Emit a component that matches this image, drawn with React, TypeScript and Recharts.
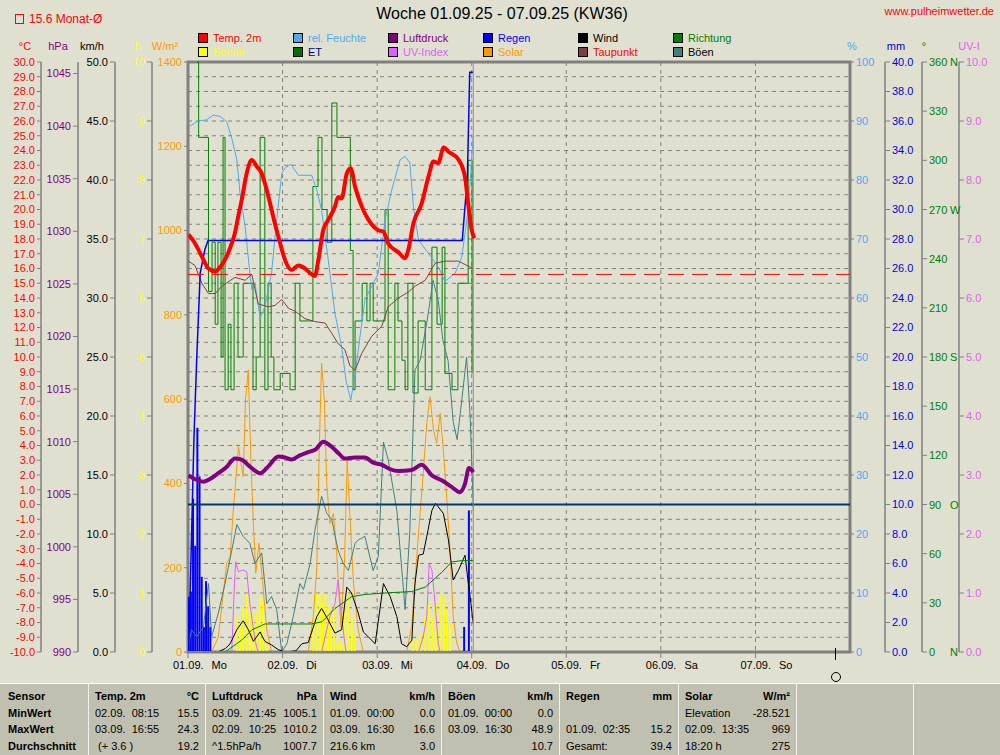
import {
  ComposedChart,
  Line,
  Bar,
  XAxis,
  YAxis,
  CartesianGrid,
  ReferenceLine,
  ReferenceArea,
} from "recharts";

// all times are hours since 01.09. 00:00
const FONT = "'Liberation Sans', Arial, sans-serif";
const BG = "#e0e0d0";
const GRID = "#808080";

const weekHours = 168;
const dayTicks = [0, 24, 48, 72, 96, 120, 144];
const dayDates = ["01.09.", "02.09.", "03.09.", "04.09.", "05.09.", "06.09.", "07.09."];
const dayNames = ["Mo", "Di", "Mi", "Do", "Fr", "Sa", "So"];

const monthAvg = 15.6;
const nowHour = 72.4;

const tempC = [
  [0.1, 18.3], [1.3, 17.9], [2.6, 17.3], [3.9, 16.6], [5.2, 16.0], [6.9, 15.8], [8.2, 16.1],
  [9.4, 16.6], [10.7, 17.4], [11.9, 18.4], [12.8, 19.6], [13.6, 20.6], [14.9, 22.45], [16.2, 23.35],
  [17.5, 22.9], [18.7, 22.45], [19.5, 21.8], [20.3, 21.0], [21.2, 20.0], [22.1, 19.0], [22.9, 18.2],
  [23.8, 17.3], [24.6, 16.6], [26.3, 15.9], [28.0, 16.2], [29.7, 16.0], [31.4, 15.6], [32.2, 15.5],
  [33.1, 16.6], [34.3, 18.6], [35.6, 19.3], [37.3, 20.2], [38.1, 20.85], [39.0, 20.75], [40.3, 22.45],
  [41.3, 22.8], [42.4, 21.55], [44.1, 20.2], [45.8, 19.3], [48.3, 18.6], [49.6, 18.5], [50.8, 17.7],
  [53.4, 17.1], [55.1, 16.7], [55.9, 17.25], [57.2, 19.05], [59.3, 20.4], [61.0, 22.2], [62.3, 23.25],
  [63.5, 23.15], [64.9, 24.2], [66.2, 23.9], [68.6, 23.4], [70.3, 22.2], [71.1, 20.4], [72.0, 18.6],
  [72.7, 18.05],
];

const dewC = [
  [0.1, 16.5], [1.8, 16.2], [3.5, 15.0], [5.2, 14.3], [6.9, 14.3], [8.6, 14.8], [11.9, 15.4],
  [14.5, 15.2], [16.2, 15.6], [17.8, 13.6], [20.4, 13.4], [22.1, 13.5], [23.8, 13.9], [25.5, 13.3],
  [27.2, 13.1], [29.7, 12.6], [32.2, 12.4], [34.8, 12.3], [36.5, 11.6], [38.1, 10.9], [39.8, 10.5],
  [41.1, 9.4], [42.4, 9.1], [44.1, 10.25], [46.6, 11.4], [49.2, 12.1], [50.8, 13.4], [53.4, 14.0],
  [55.9, 14.4], [57.6, 14.8], [60.2, 15.2], [62.7, 16.35], [65.2, 16.5], [68.6, 16.5], [71.6, 16.1],
  [72.4, 16.0],
];

const humidity = [
  [0.1, 89.0], [2.6, 90.0], [4.7, 90.2], [6.4, 91.0], [8.1, 90.8], [9.8, 89.9], [11.1, 87.1],
  [12.4, 83.4], [13.2, 77.7], [14.5, 72.1], [15.7, 64.2], [16.2, 61.4], [17.0, 62.5], [18.3, 56.6],
  [19.5, 58.5], [21.2, 64.2], [22.5, 73.2], [23.8, 81.1], [24.6, 82.0], [26.1, 82.7], [28.0, 80.8],
  [31.4, 80.8], [32.7, 78.3], [33.9, 74.9], [35.6, 66.4], [37.3, 57.4], [39.0, 51.7], [40.1, 46.0],
  [41.3, 42.7], [42.4, 47.0], [43.2, 51.2], [44.9, 59.7], [48.3, 64.2], [50.0, 73.2], [51.7, 78.3],
  [53.8, 83.4], [55.1, 84.0], [56.3, 82.9], [57.2, 75.5], [58.5, 69.8], [61.0, 67.6], [63.5, 65.3],
  [65.2, 62.8], [67.8, 64.2], [69.5, 67.0], [71.1, 74.9], [72.4, 87.6],
];

const pressure = [
  [0.1, 1006.8], [2.0, 1006.4], [3.9, 1006.2], [5.8, 1006.5], [7.7, 1007.0], [9.8, 1007.6],
  [11.9, 1008.4], [13.6, 1008.3], [15.8, 1007.6], [18.3, 1007.0], [20.5, 1007.7], [22.9, 1008.6],
  [24.6, 1008.5], [26.3, 1008.3], [28.4, 1008.7], [30.5, 1009.0], [32.5, 1009.3], [34.3, 1010.0],
  [36.5, 1009.5], [38.2, 1008.9], [39.8, 1008.4], [42.3, 1008.5], [44.9, 1008.5], [47.0, 1008.0],
  [49.2, 1007.8], [51.2, 1007.4], [53.4, 1007.2], [56.8, 1007.3], [59.3, 1007.8], [61.9, 1006.8],
  [64.5, 1006.3], [66.9, 1005.7], [69.0, 1005.2], [70.3, 1006.0], [71.3, 1007.5], [72.4, 1007.1],
];

const rainTotal = [
  [0.1, 0], [0.5, 3.5], [1.0, 9.0], [1.5, 14.4], [2.2, 19.8], [3.1, 25.7], [4.3, 27.3],
  [5.1, 27.9], [69.6, 27.9], [70.9, 32.2], [71.5, 39.3], [72.4, 39.3],
];

const rainTimes = [0.2, 0.75, 1.3, 1.85, 2.4, 2.95, 3.5, 4.05, 4.6, 5.15, 5.7, 70.1, 71.3];
const rainMm = [3.75, 4.1, 10.4, 7.2, 15.2, 11.9, 5.1, 1.7, 4.8, 3.1, 1.7, 1.7, 9.6];

const sunTimes = [
  12.4, 13.2, 14.0, 14.9, 15.7, 16.6, 17.4, 18.3, 19.1, 20.0,
  31.8, 32.7, 33.5, 34.2, 34.9, 35.6, 36.3, 37.1, 38.0, 38.8, 39.7, 40.7, 41.6, 42.4,
  57.2, 58.2, 59.1, 60.2, 61.2, 62.0, 62.9, 64.1, 65.0, 65.7, 66.5,
];
const sunH = [
  0.6, 0.43, 0.75, 0.99, 0.83, 0.6, 0.7, 0.95, 0.83, 0.2,
  0.6, 0.99, 0.99, 0.83, 0.99, 0.77, 0.6, 0.83, 0.15, 0.2, 0.83, 0.99, 0.6, 0.3,
  0.2, 0.2, 0.3, 0.6, 0.83, 0.6, 0.83, 0.99, 0.94, 0.71, 0.49,
];

const windKmh = [
  [0, 0], [7.6, 0], [9.5, 0.3], [10.7, 0.7], [12.4, 1.9], [14.0, 2.65], [15.3, 1.9], [16.6, 0.9],
  [18.3, 1.7], [19.5, 0.9], [21.2, 0.6], [22.9, 0.2], [24.6, 0], [27.4, 0.1], [28.9, 0.7],
  [30.5, 0.8], [32.7, 3.0], [33.9, 3.7], [35.6, 2.7], [37.3, 1.6], [39.0, 1.9], [40.3, 5.5],
  [41.5, 5.0], [43.2, 3.3], [44.5, 1.7], [47.5, 0.7], [49.6, 5.8], [51.3, 4.7], [53.0, 3.0],
  [54.2, 0.7], [55.5, 0.45], [56.8, 1.0], [57.6, 5.8], [58.5, 8.2], [59.7, 8.3], [60.6, 9.8],
  [61.9, 12.0], [62.8, 12.6], [63.5, 12.3], [64.8, 11.75], [66.1, 9.5], [67.3, 6.1], [68.6, 6.9],
  [70.3, 8.2], [71.0, 6.2], [71.6, 4.7], [72.4, 2.4],
];

const gustKmh = [
  [0.1, 0.45], [0.9, 1.9], [2.2, 1.3], [3.9, 2.1], [5.2, 5.8], [6.0, 1.3], [7.7, 3.3], [9.4, 5.8],
  [11.1, 8.6], [12.4, 10.8], [14.0, 9.8], [15.7, 9.2], [17.0, 7.5], [18.7, 8.4], [20.0, 4.1],
  [21.2, 4.7], [22.5, 3.6], [23.8, 0], [25.1, 0.7], [26.7, 3.0], [28.4, 5.8], [29.3, 5.3],
  [31.0, 7.5], [32.2, 10.3], [33.9, 13.2], [35.2, 11.75], [36.5, 11.2], [38.1, 8.6], [39.4, 7.5],
  [40.7, 6.9], [42.4, 9.2], [43.2, 9.5], [44.9, 9.8], [47.0, 6.9], [48.3, 8.1], [49.6, 17.8],
  [50.8, 16.3], [53.0, 12.0], [55.1, 3.6], [56.3, 10.3], [57.6, 23.9], [58.9, 24.7], [60.7, 28.1],
  [62.2, 31.5], [63.5, 29.8], [64.7, 26.4], [66.0, 24.7], [67.3, 19.5], [68.3, 18.0], [69.5, 21.4],
  [70.7, 25.0], [71.6, 20.0], [72.2, 14.3], [72.4, 12.0],
];

const windDir = [
  [2.3, 360], [2.7, 314], [5.2, 220], [6.1, 250], [6.9, 200], [7.6, 250], [8.4, 180], [8.9, 314],
  [9.4, 160], [10.2, 200], [10.9, 160], [11.7, 225], [12.7, 180], [14.0, 225], [16.5, 160],
  [17.3, 180], [18.3, 314], [19.5, 160], [20.3, 225], [21.1, 180], [21.8, 160], [23.4, 170],
  [25.9, 160], [27.2, 225], [28.4, 202], [31.7, 284], [33.0, 314], [34.0, 270], [35.3, 250],
  [36.5, 335], [37.8, 314], [41.2, 245], [41.9, 160], [42.4, 202], [44.2, 225], [45.4, 202],
  [46.2, 225], [47.0, 202], [48.2, 202], [50.0, 270], [50.8, 160], [52.5, 225], [53.3, 202],
  [54.3, 178], [55.1, 160], [55.8, 225], [57.1, 158], [58.4, 202], [60.2, 160], [61.9, 247],
  [63.2, 200], [64.5, 247], [65.2, 170], [67.0, 160], [68.5, 225], [71.1, 300], [72.1, 170],
];

const solarWm2 = [
  [0, 0], [6.0, 0], [7.7, 36], [9.8, 210], [10.7, 226], [11.5, 337], [12.8, 487], [14.0, 416],
  [14.6, 598], [15.3, 669], [16.0, 440], [16.6, 305], [17.2, 187], [18.0, 258], [18.9, 171],
  [20.0, 52], [21.2, 0], [30.5, 0], [31.8, 84], [32.7, 202], [33.3, 479], [33.9, 685], [34.6, 598],
  [35.2, 400], [36.0, 305], [36.9, 329], [37.7, 242], [38.8, 60], [39.7, 210], [40.4, 456],
  [41.1, 321], [42.0, 163], [43.2, 52], [44.5, 0], [55.5, 0], [56.8, 64], [58.5, 282], [59.7, 424],
  [60.6, 543], [61.4, 606], [62.3, 527], [63.1, 495], [64.0, 566], [64.8, 479], [65.7, 361],
  [66.5, 242], [67.3, 84], [68.2, 21], [69.0, 0], [72.4, 0],
];

const uvIndex = [
  [0, 0], [11.1, 0], [11.8, 1.16], [12.1, 1.53], [12.8, 1.36], [14.0, 1.39], [14.9, 1.36],
  [15.7, 0.82], [17.0, 0.2], [17.8, 0], [33.9, 0], [34.8, 0.26], [36.0, 0.6], [37.3, 0.82],
  [38.1, 1.22], [38.8, 0.71], [39.7, 0.2], [40.1, 0], [58.5, 0], [59.7, 0.26], [60.6, 0.6],
  [61.2, 1.5], [61.9, 1.39], [62.7, 0.82], [63.5, 0.14], [64.0, 0], [72.4, 0],
];

const etMm = [
  [0, 0], [9.4, 0], [13.6, 0.8], [16.2, 1.5], [19.5, 1.9], [31.4, 1.9], [34.0, 2.05], [37.3, 2.95],
  [41.5, 3.75], [44.9, 3.9], [50.0, 4.0], [56.8, 4.1], [60.2, 4.4], [64.4, 5.4], [66.9, 6.1],
  [69.5, 6.2], [72.4, 6.2],
];

const legendRow1 = [
  ["Temp. 2m", "#ff0000", "#ff0000"],
  ["rel. Feuchte", "#50a8f0", "#50a8f0"],
  ["Luftdruck", "#800080", "#800080"],
  ["Regen", "#0000ff", "#0000ff"],
  ["Wind", "#000000", "#000000"],
  ["Richtung", "#008000", "#008000"],
];
const legendRow2 = [
  ["Sonne", "#ffff00", "#ffff00"],
  ["ET", "#007000", "#000080"],
  ["UV-Index", "#e060ff", "#e060ff"],
  ["Solar", "#ff9900", "#ff9900"],
  ["Taupunkt", "#804040", "#ff0000"],
  ["Böen", "#408080", "#000000"],
];

const tableRowNames = ["Sensor", "MinWert", "MaxWert", "Durchschnitt"];
const tableCols = [
  ["Temp. 2m", "°C", "02.09.  08:15", "15.5", "03.09.  16:55", "24.3", " (+ 3.6 )", "19.2"],
  ["Luftdruck", "hPa", "03.09.  21:45", "1005.1", "02.09.  10:25", "1010.2", "^1.5hPa/h", "1007.7"],
  ["Wind", "km/h", "01.09.  00:00", "0.0", "03.09.  16:30", "16.6", "216.6 km", "3.0"],
  ["Böen", "km/h", "01.09.  00:00", "0.0", "03.09.  16:30", "48.9", "", "10.7"],
  ["Regen", "mm", "", "", "01.09.  02:35", "15.2", "Gesamt:", "39.4"],
  ["Solar", "W/m²", "Elevation", "-28.521", "02.09.  13:35", "969", "18:20 h", "275"],
  ["", "", "", "", "", "", "", ""],
  ["", "", "", "", "", "", "", ""],
];
const tableColX = [88, 205, 323, 441, 559, 678, 796, 913, 1000];
const tableRowY = [5, 22, 38, 55];

const dirLetters: Record<number, string> = { 0: "N", 90: "O", 180: "S", 270: "W", 360: "N" };

const pts = (a: number[][]) => a.map(([t, v]) => ({ t, v }));
const range = (a: number, b: number, s: number) => {
  const r: number[] = [];
  for (let v = a; v <= b + 1e-9; v += s) r.push(Math.round(v * 100) / 100);
  return r;
};

const barRows = [
  ...rainTimes.map((t, i) => ({ t, rain: rainMm[i] })),
  ...sunTimes.map((t, i) => ({ t, sun: sunH[i] })),
].sort((a, b) => a.t - b.t);

function DayTick(props: any) {
  const { x, y, payload } = props;
  const i = Math.round(payload.value / 24);
  return (
    <text x={x - 15} y={y + 9} fontSize={11} fontFamily={FONT} fill="#000">
      <tspan>{dayDates[i]}</tspan>
      <tspan dx={8}>{dayNames[i]}</tspan>
    </text>
  );
}

function DirTick(props: any) {
  const { x, y, payload } = props;
  const letter = dirLetters[payload.value];
  return (
    <g>
      <text x={x} y={y} dy={4} fontSize={11} fontFamily={FONT} fill="#008000">
        {payload.value}
      </text>
      {letter && (
        <text x={x + 21} y={y} dy={4} fontSize={11} fontFamily={FONT} fill="#008000">
          {letter}
        </text>
      )}
    </g>
  );
}

const tickStyle = (fill: string) => ({ fill, fontSize: 11, fontFamily: FONT });
const axisStroke = { stroke: GRID, strokeWidth: 1.5 };

// vertical grid only at the day boundaries
const dayGrid = ({ offset }: any) =>
  dayTicks.map((t) => offset.left + (t / weekHours) * offset.width);

export default function App() {
  return (
    <div
      style={{
        position: "absolute",
        left: 0,
        top: 0,
        width: 1000,
        height: 755,
        background: BG,
        overflow: "hidden",
        fontFamily: FONT,
      }}
    >
      <ComposedChart
        width={1000}
        height={685}
        data={barRows}
        margin={{ top: 62, right: 0, bottom: 0, left: 0 }}
        style={{ position: "absolute", left: 0, top: 0 }}
      >
        <XAxis
          xAxisId="t"
          dataKey="t"
          type="number"
          domain={[0, weekHours]}
          allowDataOverflow
          ticks={dayTicks}
          interval={0}
          height={33}
          tickSize={6}
          tickMargin={2}
          tick={<DayTick />}
          axisLine={{ stroke: GRID, strokeWidth: 2 }}
          tickLine={{ stroke: GRID }}
        />
        {/* silent time axes used only by the bars */}
        <XAxis xAxisId="sunX" dataKey="t" type="number" domain={[0, weekHours]} allowDataOverflow
          height={0} tick={false} tickLine={false} axisLine={false} />
        <XAxis xAxisId="rainX" dataKey="t" type="number" domain={[0, weekHours]} allowDataOverflow
          height={0} tick={false} tickLine={false} axisLine={false} />

        {/* left axes, nearest to the plot first */}
        <YAxis yAxisId="l1solar" orientation="left" width={36} domain={[0, 1400]} ticks={range(0, 1400, 200)}
          interval={0} tick={tickStyle("#ff9900")} tickSize={4} tickMargin={2} axisLine={false} tickLine={{ stroke: GRID }} />
        <YAxis yAxisId="l2sun" orientation="left" width={37} domain={[0, 10]} ticks={range(0, 10, 1)}
          interval={0} tick={tickStyle("#ffff00")} tickSize={5} tickMargin={2} axisLine={axisStroke} tickLine={{ stroke: GRID }} />
        <YAxis yAxisId="l3kmh" orientation="left" width={37} domain={[0, 50]} ticks={range(0, 50, 5)}
          interval={0} tickFormatter={(v: number) => v.toFixed(1)} tick={tickStyle("#000000")} tickSize={5} tickMargin={2}
          axisLine={axisStroke} tickLine={{ stroke: GRID }} />
        <YAxis yAxisId="l4hpa" orientation="left" width={37} domain={[990, 1046.1]} ticks={range(990, 1045, 5)}
          interval={0} tick={tickStyle("#800080")} tickSize={5} tickMargin={2} axisLine={axisStroke} tickLine={{ stroke: GRID }} allowDataOverflow />
        <YAxis yAxisId="l5temp" orientation="left" width={41} domain={[-10, 30]} ticks={range(-10, 30, 1)}
          interval={0} tickFormatter={(v: number) => v.toFixed(1)} tick={tickStyle("#ff0000")} tickSize={4} tickMargin={2}
          axisLine={axisStroke} tickLine={{ stroke: GRID }} />

        {/* right axes, nearest to the plot first */}
        <YAxis yAxisId="r1hum" orientation="right" width={35} domain={[0, 100]} ticks={range(0, 100, 10)}
          interval={0} tick={tickStyle("#50a8f0")} tickSize={4} tickMargin={2} axisLine={false} tickLine={{ stroke: GRID }} />
        <YAxis yAxisId="r2mm" orientation="right" width={37} domain={[0, 40]} ticks={range(0, 40, 2)}
          interval={0} tickFormatter={(v: number) => v.toFixed(1)} tick={tickStyle("#0000e0")} tickSize={5} tickMargin={2}
          axisLine={axisStroke} tickLine={{ stroke: GRID }} />
        <YAxis yAxisId="r3deg" orientation="right" width={37} domain={[0, 360]} ticks={range(0, 360, 30)}
          interval={0} tick={<DirTick />} tickSize={5} tickMargin={2} axisLine={axisStroke} tickLine={{ stroke: GRID }} />
        <YAxis yAxisId="r4uv" orientation="right" width={41} domain={[0, 10]} ticks={range(0, 10, 1)}
          interval={0} tickFormatter={(v: number) => v.toFixed(1)} tick={tickStyle("#e060f0")} tickSize={5} tickMargin={2}
          axisLine={axisStroke} tickLine={{ stroke: GRID }} />

        <CartesianGrid
          xAxisId="t"
          yAxisId="l5temp"
          stroke={GRID}
          strokeDasharray="4 4"
          verticalCoordinatesGenerator={dayGrid}
        />

        <Bar xAxisId="sunX" yAxisId="l2sun" dataKey="sun" fill="#ffff00" barSize={2} isAnimationActive={false} />
        <Bar xAxisId="rainX" yAxisId="r2mm" dataKey="rain" fill="#0000ff" barSize={2} isAnimationActive={false} />

        <Line xAxisId="t" yAxisId="r3deg" data={pts(windDir)} dataKey="v" type="stepAfter" stroke="#008000"
          strokeWidth={1} dot={false} activeDot={false} isAnimationActive={false} />
        <Line xAxisId="t" yAxisId="r1hum" data={pts(humidity)} dataKey="v" type="linear" stroke="#50a8f0"
          strokeWidth={1} dot={false} activeDot={false} isAnimationActive={false} />
        <Line xAxisId="t" yAxisId="l5temp" data={pts(dewC)} dataKey="v" type="linear" stroke="#804040"
          strokeWidth={1} dot={false} activeDot={false} isAnimationActive={false} />
        <Line xAxisId="t" yAxisId="l1solar" data={pts(solarWm2)} dataKey="v" type="linear" stroke="#ff9900"
          strokeWidth={1} dot={false} activeDot={false} isAnimationActive={false} />
        <Line xAxisId="t" yAxisId="r4uv" data={pts(uvIndex)} dataKey="v" type="linear" stroke="#e060ff"
          strokeWidth={1} dot={false} activeDot={false} isAnimationActive={false} />
        <Line xAxisId="t" yAxisId="l3kmh" data={pts(gustKmh)} dataKey="v" type="linear" stroke="#408080"
          strokeWidth={1} dot={false} activeDot={false} isAnimationActive={false} />
        <Line xAxisId="t" yAxisId="l3kmh" data={pts(windKmh)} dataKey="v" type="linear" stroke="#000000"
          strokeWidth={1} dot={false} activeDot={false} isAnimationActive={false} />
        <Line xAxisId="t" yAxisId="r2mm" data={pts(etMm)} dataKey="v" type="linear" stroke="#008000"
          strokeWidth={1} dot={false} activeDot={false} isAnimationActive={false} />
        <Line xAxisId="t" yAxisId="r2mm" data={pts(rainTotal)} dataKey="v" type="linear" stroke="#0000ff"
          strokeWidth={1.5} dot={false} activeDot={false} isAnimationActive={false} />

        <ReferenceLine xAxisId="t" yAxisId="l5temp" y={0} stroke="#003878" strokeWidth={2} />
        <ReferenceLine xAxisId="t" yAxisId="l5temp" y={monthAvg} stroke="#ff0000" strokeDasharray="16 8" />
        <ReferenceLine xAxisId="t" yAxisId="l5temp" x={nowHour} stroke="#909090" />

        <Line xAxisId="t" yAxisId="l4hpa" data={pts(pressure)} dataKey="v" type="monotone" stroke="#800080"
          strokeWidth={4} dot={false} activeDot={false} isAnimationActive={false} />
        <Line xAxisId="t" yAxisId="l5temp" data={pts(tempC)} dataKey="v" type="monotone" stroke="#ff0000"
          strokeWidth={4} dot={false} activeDot={false} isAnimationActive={false} />

        <ReferenceArea xAxisId="t" yAxisId="l5temp" x1={0} x2={weekHours} y1={-10} y2={30} fill="none"
          fillOpacity={0} stroke={GRID} strokeWidth={3} ifOverflow="visible" />
      </ComposedChart>

      {/* header */}
      <div style={{ position: "absolute", left: 0, width: 1000, top: 5, textAlign: "center", fontSize: 16, color: "#000" }}>
        <span style={{ position: "relative", left: 2 }}>Woche 01.09.25 - 07.09.25 (KW36)</span>
      </div>
      <div style={{ position: "absolute", right: 6, top: 5, fontSize: 11, color: "#ff0000" }}>www.pulheimwetter.de</div>
      <div style={{ position: "absolute", left: 15, top: 14, width: 7, height: 8, border: "1px solid #ff0000" }} />
      <div style={{ position: "absolute", left: 29, top: 12, fontSize: 12, color: "#ff0000" }}>15.6 Monat-Ø</div>

      {/* legend */}
      {[legendRow1, legendRow2].map((row, r) =>
        row.map(([name, box, text], i) => (
          <div key={name} style={{ position: "absolute", left: 198 + i * 95, top: 32 + r * 14, height: 12, display: "flex", alignItems: "center" }}>
            <div style={{ width: 8, height: 8, background: box, border: "1px solid #000" }} />
            <span style={{ marginLeft: 5, fontSize: 11, color: text, lineHeight: "12px" }}>{name}</span>
          </div>
        ))
      )}

      {/* axis unit titles */}
      {[
        ["°C", 25, "#ff0000"],
        ["hPa", 58, "#800080"],
        ["km/h", 92, "#000000"],
        ["h", 138, "#ffff00"],
        ["W/m²", 165, "#ff9900"],
        ["%", 852, "#50a8f0"],
        ["mm", 896, "#0000e0"],
        ["°", 924, "#008000"],
        ["UV-I", 969, "#e060f0"],
      ].map(([s, x, c]) => (
        <div key={s as string} style={{ position: "absolute", left: (x as number) - 20, width: 40, top: 40, textAlign: "center", fontSize: 11, color: c as string }}>
          {s}
        </div>
      ))}

      {/* moon marker */}
      <div style={{ position: "absolute", left: 835, top: 648, width: 1, height: 12, background: "#000" }} />
      <div style={{ position: "absolute", left: 831, top: 672, width: 8, height: 8, border: "1px solid #000", borderRadius: "50%" }} />

      {/* statistics table */}
      <div style={{ position: "absolute", left: 0, top: 683, width: 1000, height: 72, background: "#c0c0b0", borderTop: "1px solid #ffffff", fontSize: 11, color: "#000" }}>
        {tableRowNames.map((n, r) => (
          <span key={n} style={{ position: "absolute", left: 8, top: tableRowY[r], fontWeight: "bold", lineHeight: "14px", whiteSpace: "nowrap" }}>{n}</span>
        ))}
        {tableColX.slice(0, -1).map((x) => (
          <div key={x} style={{ position: "absolute", left: x, top: 0, width: 1, height: 72, background: "#f0f0f0" }} />
        ))}
        {tableCols.map((col, c) =>
          [0, 1, 2, 3].map((r) => (
            <div key={`${c}-${r}`}>
              {col[r * 2] && (
                <span style={{ position: "absolute", left: tableColX[c] + 7, top: tableRowY[r], lineHeight: "14px", whiteSpace: "pre", fontWeight: r === 0 ? "bold" : "normal" }}>
                  {col[r * 2]}
                </span>
              )}
              {col[r * 2 + 1] && (
                <span style={{ position: "absolute", right: 1000 - tableColX[c + 1] + 6, top: tableRowY[r], lineHeight: "14px", whiteSpace: "pre", fontWeight: r === 0 ? "bold" : "normal" }}>
                  {col[r * 2 + 1]}
                </span>
              )}
            </div>
          ))
        )}
      </div>
    </div>
  );
}
